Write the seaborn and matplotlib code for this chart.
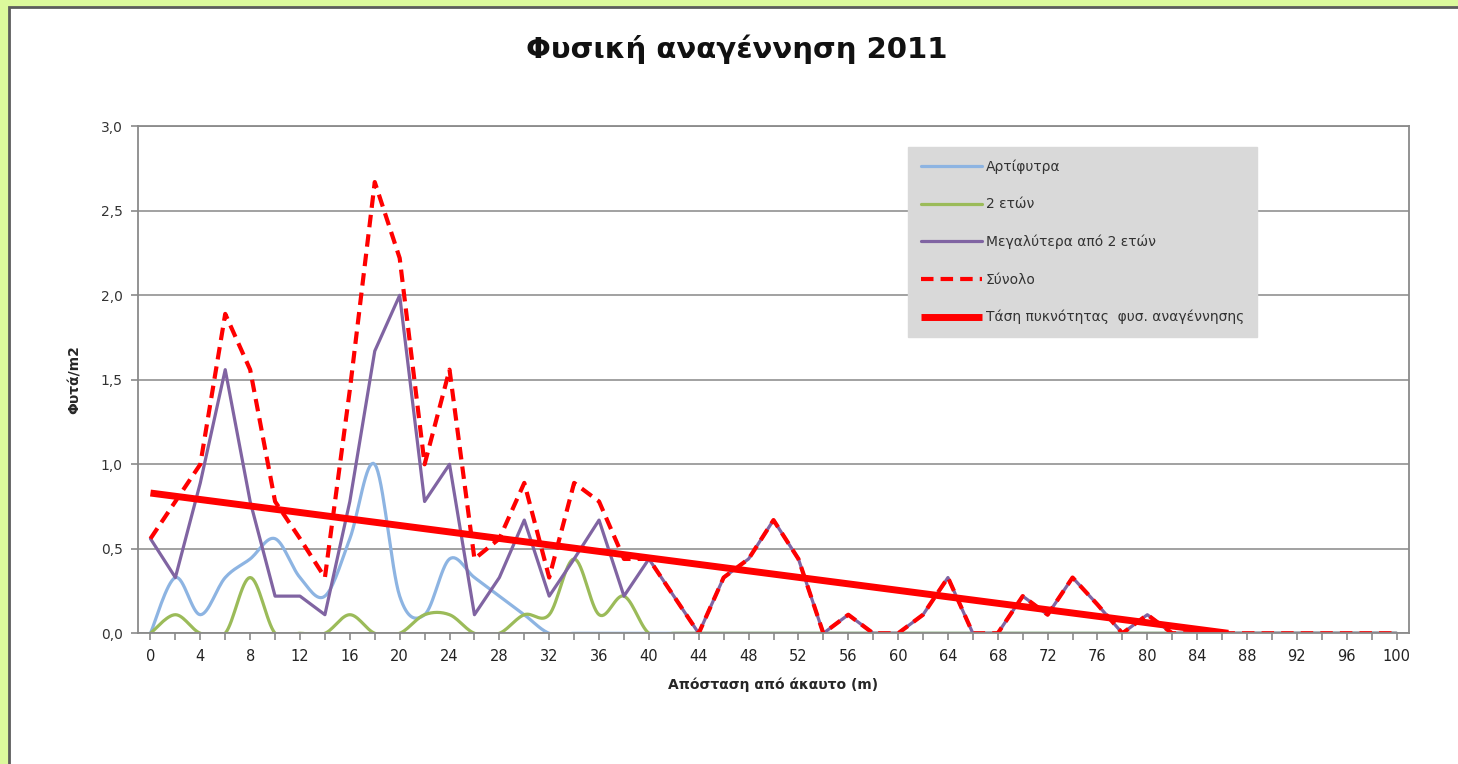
import numpy as np
import matplotlib
matplotlib.use("Agg")
import matplotlib.pyplot as plt
from matplotlib.patches import Rectangle
from matplotlib.ticker import FuncFormatter, MultipleLocator
import seaborn as sns

# distance from the unburnt edge (m)
distance = list(range(0, 102, 2))

seedlings = [0, .33, .11, .33, .44, .56, .33, .22, .56, 1.0, .22, .11, .44, .33, .22, .11, 0, 0, 0, 0, 0,
             0, 0, 0, 0, 0, 0, 0, 0, 0, 0, 0, 0, 0, 0, 0, 0, 0, 0, 0,
             0, 0, 0, 0, 0, 0, 0, 0, 0, 0, 0]
two_years = [0, .11, 0, 0, .33, 0, 0, 0, .11, 0, 0, .11, .11, 0, 0, .11, .11, .44, .11, .22, 0,
             0, 0, 0, 0, 0, 0, 0, 0, 0, 0, 0, 0, 0, 0, 0, 0, 0, 0, 0,
             0, 0, 0, 0, 0, 0, 0, 0, 0, 0, 0]
older = [.56, .33, .89, 1.56, .78, .22, .22, .11, .78, 1.67, 2.0, .78, 1.0, .11, .33, .67, .22, .44, .67, .22, .44,
         .22, 0, .33, .44, .67, .44, 0, .11, 0, 0, .11, .33, 0, 0, .22, .11, .33, .17, 0, .11,
         0, 0, 0, 0, 0, 0, 0, 0, 0, 0]
total = [.56, .78, 1.0, 1.89, 1.56, .78, .56, .33, 1.44, 2.67, 2.22, 1.0, 1.56, .44, .56, .89, .33, .89, .78, .44, .44,
         .22, 0, .33, .44, .67, .44, 0, .11, 0, 0, .11, .33, 0, 0, .22, .11, .33, .17, 0, .11,
         0, 0, 0, 0, 0, 0, 0, 0, 0, 0]
trend_x = [0, 86.5]
trend_y = [0.83, 0.0]

labels = ["Αρτίφυτρα", "2 ετών", "Μεγαλύτερα από 2 ετών", "Σύνολο",
          "Τάση πυκνότητας  φυσ. αναγέννησης"]


def smooth(x, y, n=16):
    # catmull-rom curve through the points, like excel's smoothed lines
    x = np.asarray(x, float)
    y = np.asarray(y, float)
    p = np.column_stack([x, y])
    p = np.vstack([p[0], p, p[-1]])
    t = np.linspace(0, 1, n, endpoint=False)[:, None]
    out = []
    for i in range(1, len(p) - 2):
        p0, p1, p2, p3 = p[i - 1], p[i], p[i + 1], p[i + 2]
        out.append(0.5 * (2 * p1 + (-p0 + p2) * t + (2 * p0 - 5 * p1 + 4 * p2 - p3) * t ** 2
                          + (-p0 + 3 * p1 - 3 * p2 + p3) * t ** 3))
    out.append(p[-2][None, :])
    out = np.vstack(out)
    return out[:, 0], out[:, 1]


sns.set_style("white")
plt.rcParams['font.family'] = ['DejaVu Sans']

fig = plt.figure(figsize=(14.58, 7.64), dpi=100)
fig.patch.set_facecolor('#dcf99c')
fig.add_artist(Rectangle((9 / 1458, -0.02), 1.05, 1 - 7 / 764 + 0.02, transform=fig.transFigure,
                         facecolor='white', edgecolor='#5c5c5c', lw=2, zorder=-5))

ax = fig.add_axes([138 / 1458, 1 - 633.3 / 764, (1409 - 138) / 1458, (633.3 - 126.3) / 764])

sx, sy = smooth(distance, seedlings)
sns.lineplot(x=sx, y=sy, sort=False, estimator=None, color='#8db4e2', lw=2.3, label=labels[0], ax=ax)
sx, sy = smooth(distance, two_years)
sns.lineplot(x=sx, y=sy, sort=False, estimator=None, color='#9bbb59', lw=2.3, label=labels[1], ax=ax)
sns.lineplot(x=distance, y=older, color='#8064a2', lw=2.3, label=labels[2], ax=ax)
sns.lineplot(x=distance, y=total, color='#ff0000', lw=3, label=labels[3], ax=ax,
             linestyle=(0, (3, 1.7)))
sns.lineplot(x=trend_x, y=trend_y, color='#ff0000', lw=5, label=labels[4], ax=ax,
             solid_capstyle='butt')

ax.set_xlim(-1, 101)
ax.set_ylim(0, 3)
ax.xaxis.set_major_locator(MultipleLocator(4))
ax.xaxis.set_minor_locator(MultipleLocator(2))
ax.yaxis.set_major_locator(MultipleLocator(0.5))
ax.yaxis.set_major_formatter(FuncFormatter(lambda v, p: f"{v:.1f}".replace('.', ',')))
ax.grid(axis='y', color='#9a9a9a', lw=1.3)
ax.set_axisbelow(True)
for s in ax.spines.values():
    s.set_color('#8a8a8a')
    s.set_linewidth(1.3)
ax.tick_params(axis='y', which='major', left=True, length=5, width=1.2, color='#8a8a8a',
               labelsize=10, labelcolor='#333333', pad=6)
ax.tick_params(axis='x', which='both', bottom=True, length=5, width=1.2, color='#8a8a8a',
               labelsize=10.5, labelcolor='#222222', pad=6)

ax.set_xlabel("Απόσταση από άκαυτο (m)", fontsize=10, fontweight='bold', labelpad=10)
ax.set_ylabel("Φυτά/m2", fontsize=10, fontweight='bold', labelpad=14)
fig.text(0.505, 0.935, "Φυσική αναγέννηση 2011", ha='center', va='center',
         fontsize=21, fontweight='bold', color='#111111')

leg = ax.legend(loc='upper left', bbox_to_anchor=(0.606, 0.959), fontsize=10,
                frameon=True, fancybox=False, framealpha=1, facecolor='#d9d9d9',
                edgecolor='#d9d9d9', handlelength=4.4, labelspacing=1.68,
                borderpad=0.9, handletextpad=0.3, borderaxespad=0)
for t in leg.get_texts():
    t.set_color('#333333')

fig.savefig("out.png", dpi=100, facecolor=fig.get_facecolor())
